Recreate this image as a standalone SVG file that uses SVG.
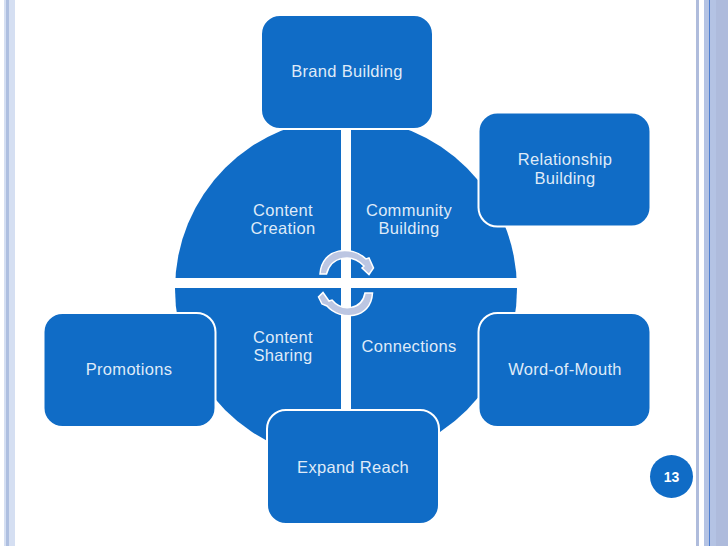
<svg xmlns="http://www.w3.org/2000/svg" width="728" height="546" viewBox="0 0 728 546">
<style>
.t{font-family:"Liberation Sans",Arial,sans-serif;font-size:16.500px;letter-spacing:.3px;fill:#dfeaf8;text-anchor:middle}
.b{fill:#106cc6;stroke:#fff;stroke-width:2}
.a{fill:#bcc6e2;stroke:#fff;stroke-width:1.500}
</style>
<rect width="728" height="546" fill="#fff"/>
<g id="frame">
<rect x="4" y="0" width="11" height="546" fill="#d5dff2"/>
<rect x="6" y="0" width="3" height="546" fill="#aebfe0"/>
<rect x="696" y="0" width="3" height="546" fill="#afbcdc"/>
<rect x="704" y="0" width="12" height="546" fill="#b4c3e4"/>
<rect x="716" y="0" width="12" height="546" fill="#aebbdc"/>
<rect x="709" y="0" width="1" height="546" fill="#4f7fd0"/>
</g>
<g id="hub">
<circle cx="346" cy="289" r="171" fill="#106cc6"/>
<rect x="341" y="110" width="10" height="360" fill="#fff"/>
<rect x="170" y="278" width="352" height="10" fill="#fff"/>
</g>
<g id="cycle-arrows">
<path class="a" d="M320 274C322 247 352 245 366 259L369 258L373.500 268L369 274.500L362 268L364 266C352 253 331 256 326.500 274Z"/>
<path class="a" d="M372.500 293C371 320 340 321 327 306L322 304L318.500 297L323 292.500L329 301L332 300C342 312 362 310 365 293Z"/>
</g>
<g id="brand"><rect class="b" x="261" y="15" width="172" height="114" rx="19"/><text class="t" x="347" y="77">Brand Building</text></g>
<g id="relationship"><rect class="b" x="478.500" y="112.500" width="172" height="114" rx="19"/><text class="t" x="565" y="165">Relationship</text><text class="t" x="565" y="184">Building</text></g>
<g id="word"><rect class="b" x="478.500" y="313" width="172" height="114" rx="19"/><text class="t" x="565" y="375">Word-of-Mouth</text></g>
<g id="promotions"><rect class="b" x="43.500" y="313" width="172" height="114" rx="19"/><text class="t" x="129" y="375">Promotions</text></g>
<g id="expand"><rect class="b" x="267" y="410" width="172" height="114" rx="19"/><text class="t" x="353" y="473">Expand Reach</text></g>
<g id="content-creation"><text class="t" x="283" y="216">Content</text><text class="t" x="283" y="234">Creation</text></g>
<g id="community"><text class="t" x="409" y="216">Community</text><text class="t" x="409" y="234">Building</text></g>
<g id="sharing"><text class="t" x="283" y="343">Content</text><text class="t" x="283" y="361">Sharing</text></g>
<g id="connections"><text class="t" x="409" y="352">Connections</text></g>
<g id="page"><circle cx="671.500" cy="476.500" r="21.500" fill="#106cc6"/><text x="671.500" y="482" style="font-family:'Liberation Sans',Arial,sans-serif;font-size:14px;font-weight:700;fill:#fff;text-anchor:middle">13</text></g>
</svg>
